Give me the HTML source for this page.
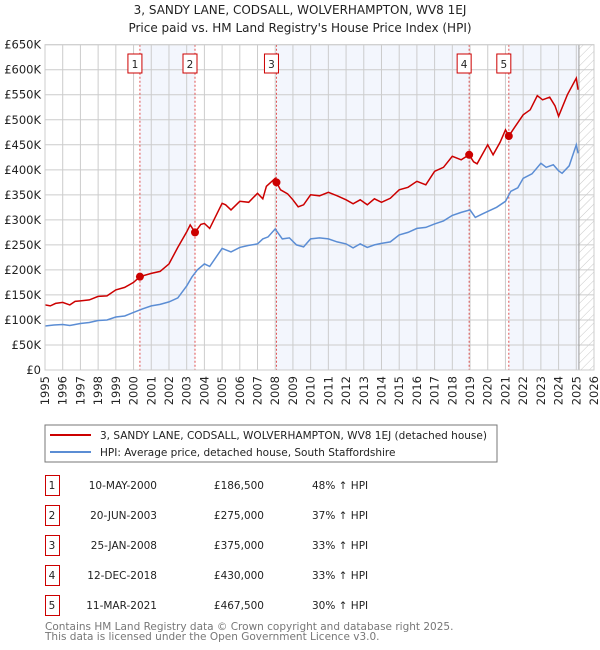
<!DOCTYPE html>
<html><head><meta charset="utf-8"><style>
body{margin:0;background:#fff;}
svg{display:block;font-family:"DejaVu Sans","Liberation Sans",sans-serif;}
</style></head><body>
<svg id="c" width="600" height="650" viewBox="0 0 600 650">
<defs><pattern id="hatch" width="6" height="6" patternUnits="userSpaceOnUse" patternTransform="rotate(45)"><line x1="0" y1="0" x2="0" y2="6" stroke="#bbb" stroke-width="0.8"/></pattern></defs>
<text x="300" y="14" text-anchor="middle" font-size="12" fill="#222">3, SANDY LANE, CODSALL, WOLVERHAMPTON, WV8 1EJ</text>
<text x="300" y="32" text-anchor="middle" font-size="12" fill="#222">Price paid vs. HM Land Registry's House Price Index (HPI)</text>
<g id="bands"></g><g id="grid"></g><g id="series"></g><g id="marks"></g><g id="axes"></g>
<rect x="45" y="425" width="452" height="37" fill="none" stroke="#777" stroke-width="1"/>
<line x1="50" y1="435" x2="91" y2="435" stroke="#cc0000" stroke-width="2"/>
<text x="100" y="439" font-size="10.5" fill="#222">3, SANDY LANE, CODSALL, WOLVERHAMPTON, WV8 1EJ (detached house)</text>
<line x1="50" y1="452" x2="91" y2="452" stroke="#5b8dd4" stroke-width="2"/>
<text x="100" y="456" font-size="10.5" fill="#222">HPI: Average price, detached house, South Staffordshire</text>
<g id="table"></g>
<text x="45" y="630" font-size="10.5" fill="#777">Contains HM Land Registry data © Crown copyright and database right 2025.</text>
<text x="45" y="640" font-size="10.5" fill="#777">This data is licensed under the Open Government Licence v3.0.</text>
</svg>
<script>
const yTicks=[0,50,100,150,200,250,300,350,400,450,500,550,600,650];
const yLabels=["£0","£50K","£100K","£150K","£200K","£250K","£300K","£350K","£400K","£450K","£500K","£550K","£600K","£650K"];
const years=[1995,1996,1997,1998,1999,2000,2001,2002,2003,2004,2005,2006,2007,2008,2009,2010,2011,2012,2013,2014,2015,2016,2017,2018,2019,2020,2021,2022,2023,2024,2025,2026];
const hpiT=[1995,1995.5,1996,1996.4,1997,1997.5,1998,1998.5,1999,1999.5,2000,2000.5,2001,2001.5,2002,2002.5,2003,2003.3,2003.6,2004,2004.3,2005,2005.5,2006,2006.5,2007,2007.3,2007.6,2008,2008.4,2008.8,2009.2,2009.6,2010,2010.5,2011,2011.5,2012,2012.4,2012.8,2013.2,2013.6,2014,2014.5,2015,2015.5,2016,2016.5,2017,2017.5,2018,2018.5,2019,2019.3,2019.7,2020,2020.5,2021,2021.3,2021.7,2022,2022.5,2023,2023.3,2023.7,2024,2024.2,2024.6,2025,2025.1];
const hpiV=[88,90,91,89,93,95,99,100,106,108,115,122,128,131,136,144,168,186,200,212,207,243,236,245,249,252,262,266,282,262,264,250,246,262,264,262,256,252,244,252,245,250,253,256,270,275,283,285,292,298,309,315,320,305,312,317,325,337,357,364,383,392,413,405,410,398,393,408,450,433];
const redT=[1995,1995.3,1995.6,1996,1996.4,1996.7,1997,1997.5,1998,1998.5,1999,1999.5,2000,2000.36,2001,2001.5,2002,2002.5,2003,2003.2,2003.47,2003.8,2004,2004.3,2005,2005.2,2005.5,2006,2006.5,2007,2007.3,2007.5,2008,2008.07,2008.3,2008.7,2009,2009.3,2009.6,2010,2010.5,2011,2011.5,2012,2012.4,2012.8,2013.2,2013.6,2014,2014.5,2015,2015.5,2016,2016.5,2017,2017.5,2018,2018.5,2018.95,2019.2,2019.4,2020,2020.3,2020.7,2021,2021.19,2021.5,2022,2022.4,2022.8,2023.1,2023.5,2023.8,2024,2024.5,2025,2025.1];
const redV=[130,128,133,135,130,137,138,140,147,148,160,165,175,186.5,193,197,212,245,276,290,275,291,293,283,333,330,320,337,335,353,342,367,383,375,360,352,340,326,330,350,348,355,348,340,332,340,330,342,335,343,360,365,377,370,397,405,427,420,430,416,412,450,430,455,480,467.5,484,510,520,548,540,545,528,507,550,583,560];
const saleT=[2000.36,2003.47,2008.07,2018.95,2021.19];
const saleV=[186.5,275,375,430,467.5];
const saleNum=["1","2","3","4","5"];
const saleDate=["10-MAY-2000","20-JUN-2003","25-JAN-2008","12-DEC-2018","11-MAR-2021"];
const salePrice=["£186,500","£275,000","£375,000","£430,000","£467,500"];
const saleHpi=["48% ↑ HPI","37% ↑ HPI","33% ↑ HPI","33% ↑ HPI","30% ↑ HPI"];
const dataEnd=2025.15;

const X0=45,X1=594,Y0=370,Y1=44.7;
const xs=t=>X0+(t-1995)/31*(X1-X0);
const ys=v=>Y0-v/650*(Y0-Y1);
const NS="http://www.w3.org/2000/svg";
function mk(tag,attrs,parent,txt){const e=document.createElementNS(NS,tag);for(const k in attrs)e.setAttribute(k,attrs[k]);if(txt!==undefined)e.textContent=txt;document.getElementById(parent).appendChild(e);return e;}

const bandPairs=[[0,1],[2,3],[4,null]];
bandPairs.forEach((p,i)=>{const a=xs(saleT[p[0]]),b=p[1]===null?xs(dataEnd):xs(saleT[p[1]]);
const r=mk('rect',{x:a,y:Y1,width:b-a,height:Y0-Y1,fill:'#f3f6fd'},'bands');

});
const h=mk('rect',{x:xs(dataEnd),y:Y1,width:X1-xs(dataEnd),height:Y0-Y1,fill:'url(#hatch)'},'bands');


yTicks.forEach((v,i)=>{const l=mk('line',{x1:X0,x2:X1,y1:ys(v),y2:ys(v),stroke:'#ccc','stroke-width':1},'grid');


const t=mk('text',{x:X0-4,y:ys(v)+4,'text-anchor':'end','font-size':11.5,fill:'#222'},'axes',yLabels[i]);

});
years.forEach(y=>{const l=mk('line',{x1:xs(y),x2:xs(y),y1:Y1,y2:Y0,stroke:'#ccc','stroke-width':1},'grid');


const t=mk('text',{x:0,y:0,'text-anchor':'end','font-size':11.5,fill:'#222',transform:`translate(${xs(y)+4},${Y0+6}) rotate(-90)`},'axes',String(y));

});
const dl=mk('line',{x1:xs(dataEnd),x2:xs(dataEnd),y1:Y1,y2:Y0,stroke:'#999','stroke-width':1},'grid');


saleT.forEach((t,i)=>{const l=mk('line',{x1:xs(t),x2:xs(t),y1:Y1,y2:Y0,stroke:'#e05050','stroke-width':1,'stroke-dasharray':'2,2'},'grid');


const bx=xs(t)-7;
const r=mk('rect',{x:bx-5,y:54,width:14,height:19,fill:'#fff',stroke:'#cc0000','stroke-width':1},'marks');


const tx=mk('text',{x:bx+2,y:68,'text-anchor':'middle','font-size':10.5,fill:'#222'},'marks',saleNum[i]);

});
const pts=(T,V)=>T.map((t,i)=>xs(t).toFixed(1)+','+ys(V[i]).toFixed(1)).join(' ');
const hp=mk('polyline',{points:pts(hpiT,hpiV),fill:'none',stroke:'#5b8dd4','stroke-width':1.5},'series');


const rp=mk('polyline',{points:pts(redT,redV),fill:'none',stroke:'#cc0000','stroke-width':1.5},'series');


saleT.forEach((t,i)=>{const c=mk('circle',{cx:xs(t),cy:ys(saleV[i]),r:4,fill:'#cc0000'},'marks');

});
const fr=mk('rect',{x:X0,y:Y1,width:X1-X0,height:Y0-Y1,fill:'none',stroke:'#ccc'},'axes');


saleNum.forEach((n,i)=>{const y=475+i*30;
const r=mk('rect',{x:45.5,y:y+0.5,width:14,height:20,fill:'#fff',stroke:'#cc0000','stroke-width':1},'table');


const cells=[[52,'middle',n,'table-number'],[157,'end',saleDate[i],'table-date'],[264,'end',salePrice[i],'table-price'],[312,'start',saleHpi[i],'table-hpi-change']];
cells.forEach(c=>{const t=mk('text',{x:c[0],y:y+14,'text-anchor':c[1],'font-size':10.5,fill:'#222'},'table',c[2]);

});});
</script>
</body></html>
